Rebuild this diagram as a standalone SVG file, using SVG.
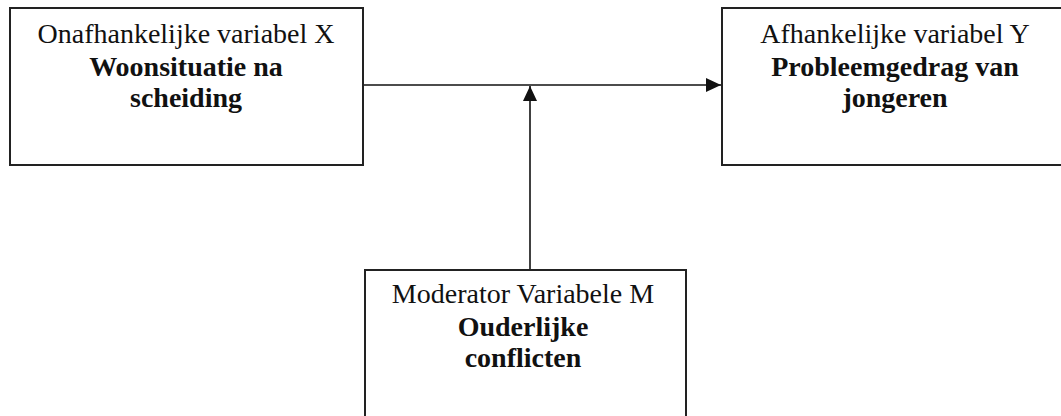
<svg xmlns="http://www.w3.org/2000/svg" width="1061" height="416" viewBox="0 0 1061 416">
<style>
.box{fill:#fff;stroke:#222;stroke-width:2}
.t{font-family:"Liberation Serif","Times New Roman",serif;font-size:28px;fill:#111;text-anchor:middle}
.b{font-weight:bold}
.c{stroke:#111;stroke-width:1.6;fill:none}
</style>
<defs>
<marker id="ah" markerUnits="userSpaceOnUse" markerWidth="16" markerHeight="14" refX="15" refY="7" orient="auto">
<path d="M0,0 L15,7 L0,14 Z" fill="#111"/>
</marker>
</defs>
<rect width="1061" height="416" fill="#fff"/>
<g id="connectors">
<line class="c" x1="363" y1="85" x2="721" y2="85" marker-end="url(#ah)"/>
<line class="c" x1="530" y1="270" x2="530" y2="86" marker-end="url(#ah)"/>
</g>
<g id="nodeX">
<rect class="box" x="10" y="8" width="353" height="157"/>
<text class="t" x="186" y="43">Onafhankelijke variabel X</text>
<text class="t b" x="186" y="76">Woonsituatie na</text>
<text class="t b" x="186" y="107">scheiding</text>
</g>
<g id="nodeY">
<rect class="box" x="722" y="8" width="346" height="157"/>
<text class="t" x="895" y="43">Afhankelijke variabel Y</text>
<text class="t b" x="895" y="76">Probleemgedrag van</text>
<text class="t b" x="895" y="107">jongeren</text>
</g>
<g id="nodeM">
<rect class="box" x="365" y="270" width="321" height="160"/>
<text class="t" x="523" y="303">Moderator Variabele M</text>
<text class="t b" x="523" y="336">Ouderlijke</text>
<text class="t b" x="523" y="367">conflicten</text>
</g>
</svg>
